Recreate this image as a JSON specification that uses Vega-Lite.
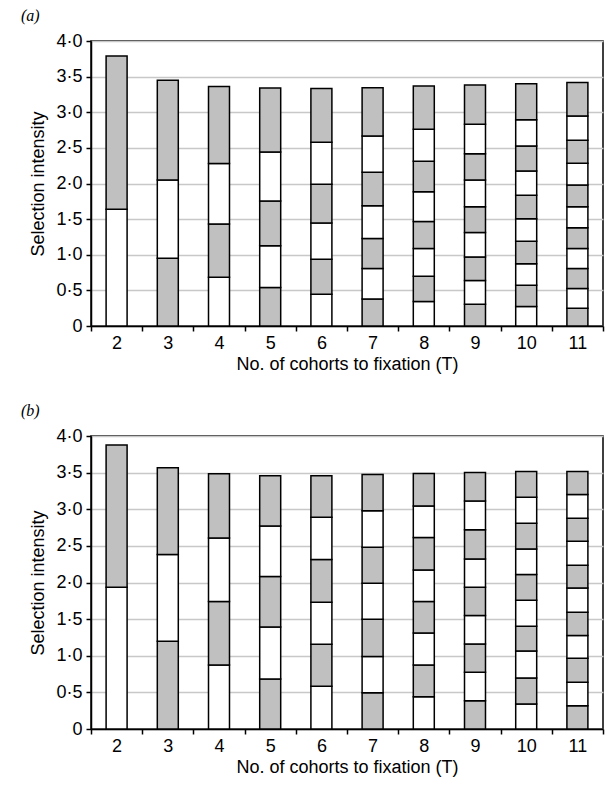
{
  "$schema": "https://vega.github.io/schema/vega-lite/v6.json",
  "background": "white",
  "padding": {"left": 20, "top": 7, "right": 4, "bottom": 2},
  "spacing": 28,
  "config": {
    "font": "Liberation Sans",
    "view": {"stroke": "black", "strokeWidth": 1.5},
    "axis": {
      "labelFont": "Liberation Sans", "labelFontSize": 18, "labelColor": "black",
      "titleFont": "Liberation Sans", "titleFontSize": 18, "titleFontWeight": "normal", "titleColor": "black",
      "domainColor": "black", "domainWidth": 1.5, "tickColor": "black", "tickWidth": 1.5,
      "gridColor": "#c8c8c8", "gridWidth": 1.5
    },
    "title": {"font": "Liberation Serif", "fontSize": 16, "fontWeight": "normal", "fontStyle": "italic", "color": "black", "anchor": "start", "frame": "group", "dx": -70, "offset": 8}
  },
  "data": {"values": [
    {"panel":"a","T":2,"lo":0,"hi":1.64,"shade":"white"},
    {"panel":"a","T":2,"lo":1.64,"hi":3.79,"shade":"grey"},
    {"panel":"a","T":3,"lo":0,"hi":0.95,"shade":"grey"},
    {"panel":"a","T":3,"lo":0.95,"hi":2.05,"shade":"white"},
    {"panel":"a","T":3,"lo":2.05,"hi":3.45,"shade":"grey"},
    {"panel":"a","T":4,"lo":0,"hi":0.685,"shade":"white"},
    {"panel":"a","T":4,"lo":0.685,"hi":1.43,"shade":"grey"},
    {"panel":"a","T":4,"lo":1.43,"hi":2.28,"shade":"white"},
    {"panel":"a","T":4,"lo":2.28,"hi":3.36,"shade":"grey"},
    {"panel":"a","T":5,"lo":0,"hi":0.54,"shade":"grey"},
    {"panel":"a","T":5,"lo":0.54,"hi":1.125,"shade":"white"},
    {"panel":"a","T":5,"lo":1.125,"hi":1.754,"shade":"grey"},
    {"panel":"a","T":5,"lo":1.754,"hi":2.443,"shade":"white"},
    {"panel":"a","T":5,"lo":2.443,"hi":3.34,"shade":"grey"},
    {"panel":"a","T":6,"lo":0,"hi":0.446,"shade":"white"},
    {"panel":"a","T":6,"lo":0.446,"hi":0.938,"shade":"grey"},
    {"panel":"a","T":6,"lo":0.938,"hi":1.444,"shade":"white"},
    {"panel":"a","T":6,"lo":1.444,"hi":1.989,"shade":"grey"},
    {"panel":"a","T":6,"lo":1.989,"hi":2.579,"shade":"white"},
    {"panel":"a","T":6,"lo":2.579,"hi":3.333,"shade":"grey"},
    {"panel":"a","T":7,"lo":0,"hi":0.38,"shade":"grey"},
    {"panel":"a","T":7,"lo":0.38,"hi":0.807,"shade":"white"},
    {"panel":"a","T":7,"lo":0.807,"hi":1.229,"shade":"grey"},
    {"panel":"a","T":7,"lo":1.229,"hi":1.688,"shade":"white"},
    {"panel":"a","T":7,"lo":1.688,"hi":2.157,"shade":"grey"},
    {"panel":"a","T":7,"lo":2.157,"hi":2.668,"shade":"white"},
    {"panel":"a","T":7,"lo":2.668,"hi":3.343,"shade":"grey"},
    {"panel":"a","T":8,"lo":0,"hi":0.343,"shade":"white"},
    {"panel":"a","T":8,"lo":0.343,"hi":0.699,"shade":"grey"},
    {"panel":"a","T":8,"lo":0.699,"hi":1.089,"shade":"white"},
    {"panel":"a","T":8,"lo":1.089,"hi":1.468,"shade":"grey"},
    {"panel":"a","T":8,"lo":1.468,"hi":1.885,"shade":"white"},
    {"panel":"a","T":8,"lo":1.885,"hi":2.312,"shade":"grey"},
    {"panel":"a","T":8,"lo":2.312,"hi":2.762,"shade":"white"},
    {"panel":"a","T":8,"lo":2.762,"hi":3.367,"shade":"grey"},
    {"panel":"a","T":9,"lo":0,"hi":0.305,"shade":"grey"},
    {"panel":"a","T":9,"lo":0.305,"hi":0.639,"shade":"white"},
    {"panel":"a","T":9,"lo":0.639,"hi":0.97,"shade":"grey"},
    {"panel":"a","T":9,"lo":0.97,"hi":1.314,"shade":"white"},
    {"panel":"a","T":9,"lo":1.314,"hi":1.674,"shade":"grey"},
    {"panel":"a","T":9,"lo":1.674,"hi":2.049,"shade":"white"},
    {"panel":"a","T":9,"lo":2.049,"hi":2.419,"shade":"grey"},
    {"panel":"a","T":9,"lo":2.419,"hi":2.833,"shade":"white"},
    {"panel":"a","T":9,"lo":2.833,"hi":3.381,"shade":"grey"},
    {"panel":"a","T":10,"lo":0,"hi":0.273,"shade":"white"},
    {"panel":"a","T":10,"lo":0.273,"hi":0.572,"shade":"grey"},
    {"panel":"a","T":10,"lo":0.572,"hi":0.872,"shade":"white"},
    {"panel":"a","T":10,"lo":0.872,"hi":1.191,"shade":"grey"},
    {"panel":"a","T":10,"lo":1.191,"hi":1.505,"shade":"white"},
    {"panel":"a","T":10,"lo":1.505,"hi":1.834,"shade":"grey"},
    {"panel":"a","T":10,"lo":1.834,"hi":2.176,"shade":"white"},
    {"panel":"a","T":10,"lo":2.176,"hi":2.527,"shade":"grey"},
    {"panel":"a","T":10,"lo":2.527,"hi":2.893,"shade":"white"},
    {"panel":"a","T":10,"lo":2.893,"hi":3.4,"shade":"grey"},
    {"panel":"a","T":11,"lo":0,"hi":0.249,"shade":"grey"},
    {"panel":"a","T":11,"lo":0.249,"hi":0.526,"shade":"white"},
    {"panel":"a","T":11,"lo":0.526,"hi":0.807,"shade":"grey"},
    {"panel":"a","T":11,"lo":0.807,"hi":1.089,"shade":"white"},
    {"panel":"a","T":11,"lo":1.089,"hi":1.378,"shade":"grey"},
    {"panel":"a","T":11,"lo":1.378,"hi":1.674,"shade":"white"},
    {"panel":"a","T":11,"lo":1.674,"hi":1.979,"shade":"grey"},
    {"panel":"a","T":11,"lo":1.979,"hi":2.284,"shade":"white"},
    {"panel":"a","T":11,"lo":2.284,"hi":2.608,"shade":"grey"},
    {"panel":"a","T":11,"lo":2.608,"hi":2.949,"shade":"white"},
    {"panel":"a","T":11,"lo":2.949,"hi":3.418,"shade":"grey"},
    {"panel":"b","T":2,"lo":0,"hi":1.936,"shade":"white"},
    {"panel":"b","T":2,"lo":1.936,"hi":3.876,"shade":"grey"},
    {"panel":"b","T":3,"lo":0,"hi":1.198,"shade":"grey"},
    {"panel":"b","T":3,"lo":1.198,"hi":2.381,"shade":"white"},
    {"panel":"b","T":3,"lo":2.381,"hi":3.566,"shade":"grey"},
    {"panel":"b","T":4,"lo":0,"hi":0.874,"shade":"white"},
    {"panel":"b","T":4,"lo":0.874,"hi":1.739,"shade":"grey"},
    {"panel":"b","T":4,"lo":1.739,"hi":2.609,"shade":"white"},
    {"panel":"b","T":4,"lo":2.609,"hi":3.484,"shade":"grey"},
    {"panel":"b","T":5,"lo":0,"hi":0.683,"shade":"grey"},
    {"panel":"b","T":5,"lo":0.683,"hi":1.393,"shade":"white"},
    {"panel":"b","T":5,"lo":1.393,"hi":2.081,"shade":"grey"},
    {"panel":"b","T":5,"lo":2.081,"hi":2.773,"shade":"white"},
    {"panel":"b","T":5,"lo":2.773,"hi":3.456,"shade":"grey"},
    {"panel":"b","T":6,"lo":0,"hi":0.583,"shade":"white"},
    {"panel":"b","T":6,"lo":0.583,"hi":1.157,"shade":"grey"},
    {"panel":"b","T":6,"lo":1.157,"hi":1.731,"shade":"white"},
    {"panel":"b","T":6,"lo":1.731,"hi":2.313,"shade":"grey"},
    {"panel":"b","T":6,"lo":2.313,"hi":2.892,"shade":"white"},
    {"panel":"b","T":6,"lo":2.892,"hi":3.456,"shade":"grey"},
    {"panel":"b","T":7,"lo":0,"hi":0.496,"shade":"grey"},
    {"panel":"b","T":7,"lo":0.496,"hi":0.99,"shade":"white"},
    {"panel":"b","T":7,"lo":0.99,"hi":1.499,"shade":"grey"},
    {"panel":"b","T":7,"lo":1.499,"hi":1.99,"shade":"white"},
    {"panel":"b","T":7,"lo":1.99,"hi":2.482,"shade":"grey"},
    {"panel":"b","T":7,"lo":2.482,"hi":2.978,"shade":"white"},
    {"panel":"b","T":7,"lo":2.978,"hi":3.474,"shade":"grey"},
    {"panel":"b","T":8,"lo":0,"hi":0.441,"shade":"white"},
    {"panel":"b","T":8,"lo":0.441,"hi":0.874,"shade":"grey"},
    {"panel":"b","T":8,"lo":0.874,"hi":1.311,"shade":"white"},
    {"panel":"b","T":8,"lo":1.311,"hi":1.739,"shade":"grey"},
    {"panel":"b","T":8,"lo":1.739,"hi":2.172,"shade":"white"},
    {"panel":"b","T":8,"lo":2.172,"hi":2.613,"shade":"grey"},
    {"panel":"b","T":8,"lo":2.613,"hi":3.046,"shade":"white"},
    {"panel":"b","T":8,"lo":3.046,"hi":3.488,"shade":"grey"},
    {"panel":"b","T":9,"lo":0,"hi":0.387,"shade":"grey"},
    {"panel":"b","T":9,"lo":0.387,"hi":0.774,"shade":"white"},
    {"panel":"b","T":9,"lo":0.774,"hi":1.161,"shade":"grey"},
    {"panel":"b","T":9,"lo":1.161,"hi":1.548,"shade":"white"},
    {"panel":"b","T":9,"lo":1.548,"hi":1.936,"shade":"grey"},
    {"panel":"b","T":9,"lo":1.936,"hi":2.322,"shade":"white"},
    {"panel":"b","T":9,"lo":2.322,"hi":2.719,"shade":"grey"},
    {"panel":"b","T":9,"lo":2.719,"hi":3.111,"shade":"white"},
    {"panel":"b","T":9,"lo":3.111,"hi":3.501,"shade":"grey"},
    {"panel":"b","T":10,"lo":0,"hi":0.342,"shade":"white"},
    {"panel":"b","T":10,"lo":0.342,"hi":0.697,"shade":"grey"},
    {"panel":"b","T":10,"lo":0.697,"hi":1.066,"shade":"white"},
    {"panel":"b","T":10,"lo":1.066,"hi":1.403,"shade":"grey"},
    {"panel":"b","T":10,"lo":1.403,"hi":1.758,"shade":"white"},
    {"panel":"b","T":10,"lo":1.758,"hi":2.108,"shade":"grey"},
    {"panel":"b","T":10,"lo":2.108,"hi":2.459,"shade":"white"},
    {"panel":"b","T":10,"lo":2.459,"hi":2.81,"shade":"grey"},
    {"panel":"b","T":10,"lo":2.81,"hi":3.165,"shade":"white"},
    {"panel":"b","T":10,"lo":3.165,"hi":3.515,"shade":"grey"},
    {"panel":"b","T":11,"lo":0,"hi":0.318,"shade":"grey"},
    {"panel":"b","T":11,"lo":0.318,"hi":0.638,"shade":"white"},
    {"panel":"b","T":11,"lo":0.638,"hi":0.966,"shade":"grey"},
    {"panel":"b","T":11,"lo":0.966,"hi":1.275,"shade":"white"},
    {"panel":"b","T":11,"lo":1.275,"hi":1.594,"shade":"grey"},
    {"panel":"b","T":11,"lo":1.594,"hi":1.926,"shade":"white"},
    {"panel":"b","T":11,"lo":1.926,"hi":2.236,"shade":"grey"},
    {"panel":"b","T":11,"lo":2.236,"hi":2.564,"shade":"white"},
    {"panel":"b","T":11,"lo":2.564,"hi":2.878,"shade":"grey"},
    {"panel":"b","T":11,"lo":2.878,"hi":3.201,"shade":"white"},
    {"panel":"b","T":11,"lo":3.201,"hi":3.515,"shade":"grey"}
  ]},
  "vconcat": [
    {
      "title": {"text": "(a)"},
      "width": 512, "height": 285,
      "transform": [{"filter": "datum.panel == 'a'"}],
      "mark": {"type": "bar", "width": {"band": 0.41}, "stroke": "black", "strokeWidth": 1.5},
      "encoding": {
        "x": {"field": "T", "type": "ordinal", "scale": {"paddingInner": 0, "paddingOuter": 0},
              "axis": {"title": "No. of cohorts to fixation (T)", "labelAngle": 0, "tickBand": "extent", "tickSize": 5, "labelPadding": 3, "titlePadding": 3, "grid": false}},
        "y": {"field": "lo", "type": "quantitative", "scale": {"domain": [0, 4], "nice": false},
              "axis": {"title": "Selection intensity", "values": [0, 0.5, 1, 1.5, 2, 2.5, 3, 3.5, 4], "labelExpr": "datum.value == 0 ? '0' : replace(format(datum.value, '.1f'), '.', '·')", "tickSize": 5, "labelPadding": 4, "titlePadding": 8}},
        "y2": {"field": "hi"},
        "fill": {"field": "shade", "type": "nominal", "scale": {"domain": ["grey", "white"], "range": ["#c0c0c0", "#ffffff"]}, "legend": null}
      }
    },
    {
      "title": {"text": "(b)"},
      "width": 512, "height": 293,
      "transform": [{"filter": "datum.panel == 'b'"}],
      "mark": {"type": "bar", "width": {"band": 0.41}, "stroke": "black", "strokeWidth": 1.5},
      "encoding": {
        "x": {"field": "T", "type": "ordinal", "scale": {"paddingInner": 0, "paddingOuter": 0},
              "axis": {"title": "No. of cohorts to fixation (T)", "labelAngle": 0, "tickBand": "extent", "tickSize": 5, "labelPadding": 3, "titlePadding": 3, "grid": false}},
        "y": {"field": "lo", "type": "quantitative", "scale": {"domain": [0, 4], "nice": false},
              "axis": {"title": "Selection intensity", "values": [0, 0.5, 1, 1.5, 2, 2.5, 3, 3.5, 4], "labelExpr": "datum.value == 0 ? '0' : replace(format(datum.value, '.1f'), '.', '·')", "tickSize": 5, "labelPadding": 4, "titlePadding": 8}},
        "y2": {"field": "hi"},
        "fill": {"field": "shade", "type": "nominal", "scale": {"domain": ["grey", "white"], "range": ["#c0c0c0", "#ffffff"]}, "legend": null}
      }
    }
  ]
}
